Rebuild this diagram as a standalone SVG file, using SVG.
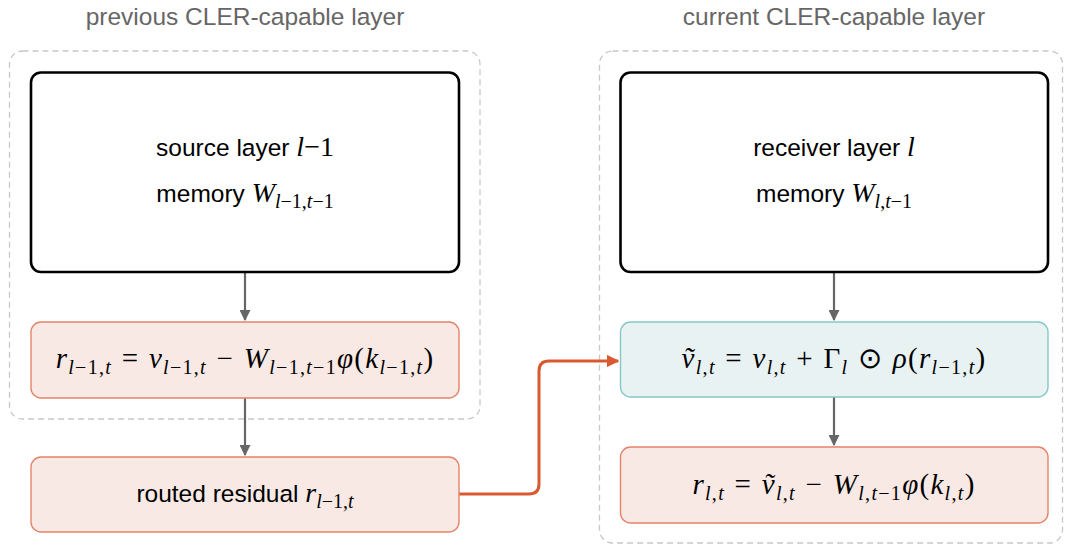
<svg xmlns="http://www.w3.org/2000/svg" width="1065" height="548" viewBox="0 0 1065 548">
<style>
.title{font-family:"Liberation Sans",Arial,sans-serif;font-size:24.5px;fill:#666;text-anchor:middle}
.grp{fill:none;stroke:#c8c8c8;stroke-width:1.3;stroke-dasharray:6 4}
.mem{fill:#fff;stroke:#000;stroke-width:2.6}
.res{fill:#f9e9e5;stroke:#e5836a;stroke-width:1.4}
.inj{fill:#e8f2f3;stroke:#86c8c8;stroke-width:1.4}
.lbl{font-family:"Liberation Sans",Arial,sans-serif;font-size:24.5px;fill:#000;text-anchor:middle}
.m{font-family:"Liberation Serif","Times New Roman",serif;font-size:29px;fill:#000;text-anchor:middle;letter-spacing:1.3px;word-spacing:1px}
.mm{font-family:"Liberation Serif","Times New Roman",serif;font-size:28px}
.i{font-style:italic}
.s{font-size:20px;font-family:"Liberation Serif","Times New Roman",serif}
.arr{fill:none;stroke:#666;stroke-width:2.2}
.route{fill:none;stroke:#d95a30;stroke-width:3}
</style>
<defs>
<marker id="ag" viewBox="0 0 10 10" refX="9" refY="5" markerWidth="5" markerHeight="5" orient="auto" markerUnits="strokeWidth"><path d="M0,0 L10,5 L0,10 z" fill="#666"/></marker>
<marker id="ao" viewBox="0 0 10 10" refX="9" refY="5" markerWidth="4.2" markerHeight="4.2" orient="auto" markerUnits="strokeWidth"><path d="M0,0 L10,5 L0,10 z" fill="#d95a30"/></marker>
</defs>

<g id="group-previous">
<rect class="grp" x="9.5" y="51" width="470.5" height="368" rx="13"/>
<text class="title" x="245" y="25">previous CLER-capable layer</text>
</g>
<g id="group-current">
<rect class="grp" x="599.5" y="51" width="463" height="492" rx="13"/>
<text class="title" x="834" y="25">current CLER-capable layer</text>
</g>

<g id="connectors">
<path class="arr" d="M245,272 V320" marker-end="url(#ag)"/>
<path class="arr" d="M245,398 V455" marker-end="url(#ag)"/>
<path class="arr" d="M834,272 V320" marker-end="url(#ag)"/>
<path class="arr" d="M834,397 V445" marker-end="url(#ag)"/>
<path class="route" d="M459,494 H529 Q539,494 539,484 V371 Q539,361 549,361 H618" marker-end="url(#ao)"/>
</g>

<g id="source-layer">
<rect class="mem" x="31" y="72.5" width="428" height="199.5" rx="10"/>
<text class="lbl" x="245" y="156">source layer <tspan class="mm i">l</tspan><tspan class="mm">−1</tspan></text>
<text class="lbl" x="245" y="202">memory <tspan class="mm i">W</tspan><tspan class="s" dy="6"><tspan class="i">l</tspan>−1,<tspan class="i">t</tspan>−1</tspan></text>
</g>

<g id="source-residual">
<rect class="res" x="31" y="322" width="428" height="76" rx="10"/>
<text class="m" x="245" y="368"><tspan class="i">r</tspan><tspan class="s" dy="6"><tspan class="i">l</tspan>−1,<tspan class="i">t</tspan></tspan><tspan dy="-6"> = </tspan><tspan class="i">v</tspan><tspan class="s" dy="6"><tspan class="i">l</tspan>−1,<tspan class="i">t</tspan></tspan><tspan dy="-6"> − </tspan><tspan class="i">W</tspan><tspan class="s" dy="6"><tspan class="i">l</tspan>−1,<tspan class="i">t</tspan>−1</tspan><tspan class="i" dy="-6">φ</tspan>(<tspan class="i">k</tspan><tspan class="s" dy="6"><tspan class="i">l</tspan>−1,<tspan class="i">t</tspan></tspan><tspan dy="-6">)</tspan></text>
</g>

<g id="routed-residual">
<rect class="res" x="31" y="457" width="428" height="75" rx="10"/>
<text class="lbl" x="245" y="502">routed residual <tspan class="mm i">r</tspan><tspan class="s" dy="6"><tspan class="i">l</tspan>−1,<tspan class="i">t</tspan></tspan></text>
</g>

<g id="receiver-layer">
<rect class="mem" x="620.5" y="72.5" width="427.5" height="199.5" rx="10"/>
<text class="lbl" x="834" y="156">receiver layer <tspan class="mm i">l</tspan></text>
<text class="lbl" x="834" y="202">memory <tspan class="mm i">W</tspan><tspan class="s" dy="6"><tspan class="i">l</tspan>,<tspan class="i">t</tspan>−1</tspan></text>
</g>

<g id="injection">
<rect class="inj" x="620.5" y="322" width="427.5" height="75" rx="10"/>
<text class="m" x="834" y="368"><tspan class="i">ṽ</tspan><tspan class="s" dy="6"><tspan class="i">l</tspan>,<tspan class="i">t</tspan></tspan><tspan dy="-6"> = </tspan><tspan class="i">v</tspan><tspan class="s" dy="6"><tspan class="i">l</tspan>,<tspan class="i">t</tspan></tspan><tspan dy="-6"> + Γ</tspan><tspan class="s i" dy="6">l</tspan><tspan dy="-6"> ⊙ </tspan><tspan class="i">ρ</tspan>(<tspan class="i">r</tspan><tspan class="s" dy="6"><tspan class="i">l</tspan>−1,<tspan class="i">t</tspan></tspan><tspan dy="-6">)</tspan></text>
</g>

<g id="receiver-residual">
<rect class="res" x="620.5" y="447" width="427.5" height="76" rx="10"/>
<text class="m" x="834" y="494"><tspan class="i">r</tspan><tspan class="s" dy="6"><tspan class="i">l</tspan>,<tspan class="i">t</tspan></tspan><tspan dy="-6"> = </tspan><tspan class="i">ṽ</tspan><tspan class="s" dy="6"><tspan class="i">l</tspan>,<tspan class="i">t</tspan></tspan><tspan dy="-6"> − </tspan><tspan class="i">W</tspan><tspan class="s" dy="6"><tspan class="i">l</tspan>,<tspan class="i">t</tspan>−1</tspan><tspan class="i" dy="-6">φ</tspan>(<tspan class="i">k</tspan><tspan class="s" dy="6"><tspan class="i">l</tspan>,<tspan class="i">t</tspan></tspan><tspan dy="-6">)</tspan></text>
</g>
</svg>
